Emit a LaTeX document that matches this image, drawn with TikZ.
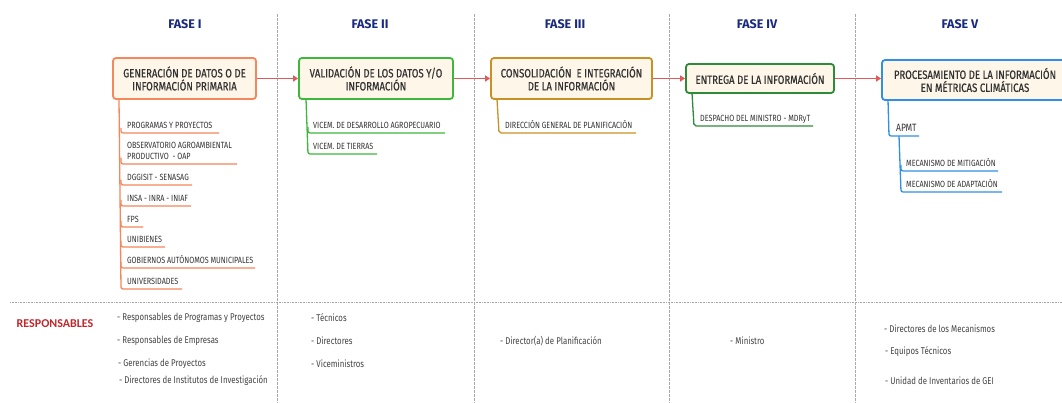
\documentclass[tikz,border=0pt]{standalone}
\usepackage{fontspec}
\setmainfont{Fira Sans}
\newfontfamily\cf{Fira Sans}[FakeStretch=0.8]
\newfontfamily\cfm{Fira Sans}[FakeStretch=0.8, FakeBold=0.5]
\newfontfamily\rf{Carlito}
\usetikzlibrary{arrows.meta}
\definecolor{navy}{HTML}{1A2A80}
\definecolor{respred}{HTML}{C0282D}
\definecolor{cream}{HTML}{FEF6E8}
\definecolor{txt}{HTML}{333333}
\definecolor{rtxt}{HTML}{444444}
\definecolor{sepgray}{HTML}{A8A8A8}
\definecolor{arrowred}{HTML}{E05A5A}
\definecolor{cOne}{HTML}{F5875C}
\definecolor{cTwo}{HTML}{3DB83D}
\definecolor{cThree}{HTML}{C99124}
\definecolor{cFour}{HTML}{2E8B3A}
\definecolor{cFive}{HTML}{2F8FE6}
\begin{document}
\begin{tikzpicture}[x=1pt,y=-1pt,
  phase/.style={font=\bfseries\fontsize{12.5}{14}\selectfont, text=navy, inner sep=0pt},
  box/.style={draw, line width=1.8pt, rounded corners=3pt, fill=cream, align=center,
    font=\cfm\fontsize{12}{13}\selectfont, text=txt, inner sep=0pt},
  item/.style={anchor=base west, font=\cf\fontsize{9}{10.5}\selectfont, text=txt, inner sep=0pt, align=left},
  resp/.style={anchor=west, font=\cf\fontsize{9.8}{11}\selectfont, text=rtxt, inner sep=0pt},
  conn/.style={-{Triangle[length=5pt,width=6pt]}, draw=arrowred, line width=1.3pt},
  branch/.style={line width=1.3pt, rounded corners=2pt},
  vsep/.style={draw=sepgray, dash pattern=on 3pt off 1pt, line width=0.6pt},
  hsep/.style={draw=sepgray, dash pattern=on 1pt off 0.6pt, line width=0.6pt}]
\useasboundingbox (0,0) rectangle (1062,403);
\fill[white] (0,0) rectangle (1062,403);

% separators
\coordinate (s1t) at (277,14); \coordinate (s1b) at (277,403);
\coordinate (s2t) at (474,14); \coordinate (s2b) at (474,403);
\coordinate (s3t) at (669,14); \coordinate (s3b) at (669,403);
\coordinate (s4t) at (855,14); \coordinate (s4b) at (855,403);
\coordinate (hl) at (10,302); \coordinate (hr) at (1062,302);
\draw[vsep] (s1t) -- (s1b);
\draw[vsep] (s2t) -- (s2b);
\draw[vsep] (s3t) -- (s3b);
\draw[vsep] (s4t) -- (s4b);
\draw[hsep] (hl) -- (hr);

% phase titles
\node[phase] (f1) at (185,24) {FASE I};
\node[phase] (f2) at (370,24) {FASE II};
\node[phase] (f3) at (565,24) {FASE III};
\node[phase] (f4) at (757,24) {FASE IV};
\node[phase] (f5) at (960,24) {FASE V};

% boxes
\node[box, draw=cOne, minimum width=143pt, minimum height=41pt] (b1) at (184.5,78.5) {GENERACIÓN DE DATOS O DE\\INFORMACIÓN PRIMARIA};
\node[box, draw=cTwo, minimum width=154pt, minimum height=41pt] (b2) at (376,78.5) {VALIDACIÓN DE LOS DATOS Y/O\\INFORMACIÓN};
\node[box, draw=cThree, minimum width=161pt, minimum height=41pt] (b3) at (571.5,78.5) {CONSOLIDACIÓN~ E INTEGRACIÓN\\DE LA INFORMACIÓN};
\node[box, draw=cFour, minimum width=148pt, minimum height=29pt] (b4) at (760,78.5) {ENTREGA DE LA INFORMACIÓN};
\node[box, draw=cFive, minimum width=186pt, minimum height=40pt] (b5) at (975,80) {PROCESAMIENTO DE LA INFORMACIÓN\\EN MÉTRICAS CLIMÁTICAS};

% arrows
\draw[conn] (b1.east) -- (b2.west);
\draw[conn] (b2.east) -- (b3.west);
\draw[conn] (b3.east) -- (b4.west);
\draw[conn] (b4.east) -- (b5.west |- b4.east);

% ---- Fase I items
\node[item] (i1) at (127,128.5) {PROGRAMAS Y PROYECTOS};
\node[item] (i2) at (127,159.5) {OBSERVATORIO AGROAMBIENTAL\\PRODUCTIVO~ - OAP};
\node[item] (i3) at (127,180.5) {DGGISIT - SENASAG};
\node[item] (i4) at (127,201.5) {INSA - INRA - INIAF};
\node[item] (i5) at (127,222.5) {FPS};
\node[item] (i6) at (127,242.5) {UNIBIENES};
\node[item] (i7) at (127,263.5) {GOBIERNOS AUTÓNOMOS MUNICIPALES};
\node[item] (i8) at (127,284.5) {UNIVERSIDADES};
\begin{scope}[draw=cOne]
\draw[branch] (119,99) -- (121,289) -- (182,289);
\draw[branch] (121,128) -- (121,133) -- (219,133);
\draw[branch] (121,158) -- (121,164) -- (237,164);
\draw[branch] (121,180) -- (121,185) -- (192,185);
\draw[branch] (121,200) -- (121,206) -- (191,206);
\draw[branch] (121,221) -- (121,227) -- (143,227);
\draw[branch] (121,241) -- (121,247) -- (165,247);
\draw[branch] (121,262) -- (121,268) -- (255,268);
\end{scope}

% ---- Fase II items
\node[item] (j1) at (313,128.5) {VICEM. DE DESARROLLO AGROPECUARIO};
\node[item] (j2) at (313,149.5) {VICEM. DE TIERRAS};
\begin{scope}[draw=cTwo]
\draw[branch] (306,99) -- (308,154) -- (377,154);
\draw[branch] (308,127) -- (308,133) -- (445,133);
\end{scope}

% ---- Fase III items
\node[item] (k1) at (505,128.5) {DIRECCIÓN GENERAL DE PLANIFICACIÓN};
\draw[branch, draw=cThree] (497,99) -- (499,133) -- (636,133);

% ---- Fase IV items
\node[item] (l1) at (700,121.5) {DESPACHO DEL MINISTRO - MDRyT};
\draw[branch, draw=cFour] (692,93) -- (694,126) -- (813,126);

% ---- Fase V items
\node[item, font=\cf\fontsize{10.6}{12}\selectfont] (m0) at (896,132) {APMT};
\node[item] (m1) at (906,166.5) {MECANISMO DE MITIGACIÓN};
\node[item] (m2) at (906,187.5) {MECANISMO DE ADAPTACIÓN};
\begin{scope}[draw=cFive]
\draw[branch] (888,100) -- (889,136) -- (919,136);
\draw[branch] (899,136) -- (901,192) -- (1002,192);
\draw[branch] (901,165) -- (901,171) -- (998,171);
\end{scope}

% ---- responsables
\node[font=\rf\bfseries\fontsize{12}{14}\selectfont, text=respred, inner sep=0pt] (rl) at (55,324) {RESPONSABLES};
\node[resp] (r11) at (117,318) {- Responsables de Programas y Proyectos};
\node[resp] (r12) at (117,341) {- Responsables de Empresas};
\node[resp] (r13) at (118,364) {- Gerencias de Proyectos};
\node[resp] (r14) at (119,381) {- Directores de Institutos de Investigación};
\node[resp] (r21) at (311,318) {- Técnicos};
\node[resp] (r22) at (311,341) {- Directores};
\node[resp] (r23) at (311,364) {- Viceministros};
\node[resp] (r31) at (500,341) {- Director(a) de Planificación};
\node[resp] (r41) at (730,341) {- Ministro};
\node[resp] (r51) at (884,329) {- Directores de los Mecanismos};
\node[resp] (r52) at (885,352) {- Equipos Técnicos};
\node[resp] (r53) at (885,381) {- Unidad de Inventarios de GEI};
\end{tikzpicture}
\end{document}
